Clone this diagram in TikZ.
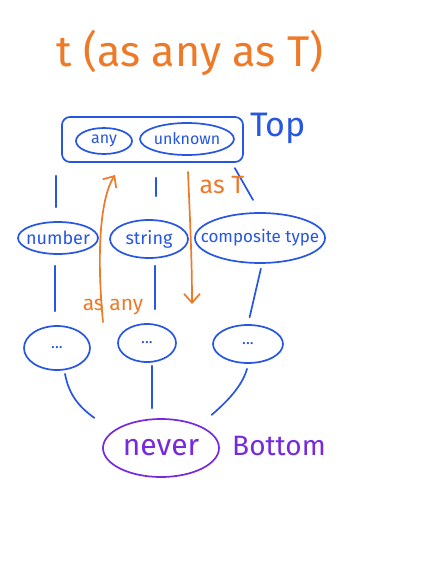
\documentclass[tikz,border=0pt]{standalone}
\usepackage{fontspec}
\setmainfont{Fira Sans}
\usetikzlibrary{arrows.meta,calc,shapes.geometric}
\definecolor{inkblue}{RGB}{38,86,226}
\definecolor{inkorange}{RGB}{238,122,40}
\definecolor{inkpurple}{RGB}{118,42,220}
\tikzset{
  ink/.style={line width=1.7pt, line cap=round, line join=round},
  oval/.style={ink, draw=inkblue, ellipse, inner sep=0pt},
  typetext/.style={text=inkblue, inner sep=0pt},
  link/.style={ink, draw=inkblue},
  cast/.style={ink, draw=inkorange, -{Straight Barb[length=9pt,width=16pt,line width=1.7pt]}},
  castlabel/.style={text=inkorange, font=\fontsize{21}{25}\selectfont},
}
\begin{document}
\begin{tikzpicture}[x=1pt,y=-1pt]
\useasboundingbox[fill=white] (0,0) rectangle (423,564);

% heading
\node[text=inkorange, font=\fontsize{43}{50}\selectfont] (title) at (190,53) {t (as any as T)};

% top types
\node[ink, draw=inkblue, rounded corners=8pt, minimum width=181pt, minimum height=45pt] (topbox) at (152.5,139.5) {};
\node[oval, minimum width=56pt, minimum height=26pt] (any) at (104,141) {};
\node[typetext, font=\fontsize{16}{19}\selectfont] (any-t) at (any) {any};
\node[oval, minimum width=94pt, minimum height=32pt] (unknown) at (187,139) {};
\node[typetext, font=\fontsize{16}{19}\selectfont] (unknown-t) at (unknown) {unknown};
\node[text=inkblue, font=\fontsize{34}{40}\selectfont] (toplabel) at (278,128) {Top};

% middle row
\node[oval, minimum width=80pt, minimum height=32pt] (num) at (58,238) {};
\node[typetext, font=\fontsize{18}{22}\selectfont] (num-t) at (num) {number};
\node[oval, minimum width=78pt, minimum height=38pt] (str) at (149,239) {};
\node[typetext, font=\fontsize{18}{22}\selectfont] (str-t) at (str) {string};
\node[oval, minimum width=130pt, minimum height=50pt] (comp) at (260,238) {};
\node[typetext, font=\fontsize{17}{20}\selectfont] (comp-t) at (comp) {composite type};

% subtypes
\node[oval, minimum width=66pt, minimum height=44pt] (sub1) at (57,348) {};
\node[typetext, font=\fontsize{16}{19}\selectfont] (sub1-t) at (sub1) {...};
\node[oval, minimum width=58pt, minimum height=38pt] (sub2) at (147,343) {};
\node[typetext, font=\fontsize{16}{19}\selectfont] (sub2-t) at (sub2) {...};
\node[oval, minimum width=70pt, minimum height=38pt] (sub3) at (248,344) {};
\node[typetext, font=\fontsize{16}{19}\selectfont] (sub3-t) at (sub3) {...};

% bottom type
\node[ink, ellipse, draw=inkpurple, minimum width=116pt, minimum height=58pt, inner sep=0pt] (never) at (161,448) {};
\node[text=inkpurple, inner sep=0pt, font=\fontsize{30}{36}\selectfont] (never-t) at (never) {never};
\node[text=inkpurple, font=\fontsize{28}{34}\selectfont] (bottomlabel) at (279,446) {Bottom};

% subtype links
\draw[link, shorten <=13pt, shorten >=14pt] (topbox.south -| num.north) ++(-2,0) coordinate (a1) -- (a1 |- num.north);
\draw[link, shorten <=15pt, shorten >=23pt] (topbox.south -| 156,0) coordinate (a2) -- (a2 |- str.north);
\draw[link, shorten <=6pt, shorten >=14pt] ($(topbox.south east)+(-12,0)$) -- (comp.north);

\draw[link, shorten <=11pt, shorten >=14pt] (num.south -| 55,0) coordinate (b1) -- (b1 |- sub1.north);
\draw[link, shorten <=7pt, shorten >=14pt] (str.south -| 155,0) coordinate (b2) -- (b2 |- sub2.north);
\draw[link, shorten <=5pt, shorten >=7pt] ($(comp.south)+(2,0)$) -- (sub3.north);

\draw[link] ($(sub1.south)+(8,3)$) .. controls +(4,22) and +(-14,-10) .. ($(never.north west)+(-25,-9)$);
\draw[link, shorten <=3pt, shorten >=10pt] (sub2.south -| 152,0) coordinate (c2) -- (c2 |- never.north);
\draw[link] ($(sub3.south)+(-1,5)$) .. controls +(-5,18) and +(14,-12) .. ($(never.north east)+(9,-12)$);

% casts
\coordinate (anyfrom) at (103,322);
\coordinate (anyto) at (115,175);
\draw[cast] (anyfrom) .. controls (97,260) and (99,200) .. (anyto);
\node[castlabel] (aslabel) at (113,307) {as any};

\coordinate (tfrom) at (188,172);
\coordinate (tto) at (192,304);
\draw[cast] (tfrom) .. controls (190,220) and (192,260) .. (tto);
\node[castlabel, font=\fontsize{25}{30}\selectfont] (astlabel) at (222,185) {as T};
\end{tikzpicture}
\end{document}
